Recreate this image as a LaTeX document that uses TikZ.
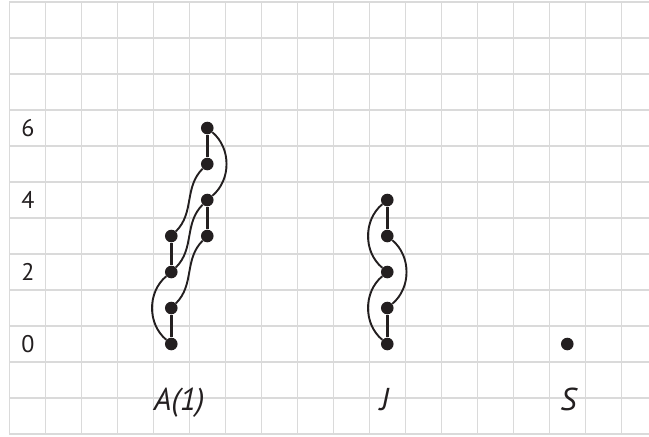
\documentclass[tikz,border=0pt]{standalone}
\usepackage{fontspec}
\setmainfont{PT Sans}
\usetikzlibrary{positioning}
\definecolor{Ink}{RGB}{35,31,32}
\definecolor{GridGray}{RGB}{218,218,218}

\begin{document}
\begin{tikzpicture}[x=1cm, y=1cm,
		dot/.style={circle, fill=Ink, inner sep=0pt, minimum size=0.35cm},
		rung/.style={Ink, line width=2.7pt},
		strand/.style={Ink, line width=1.5pt},
		levellabel/.style={font=\fontsize{19}{22}\selectfont, text=Ink},
		diagname/.style={font=\fontsize{25}{29}\selectfont\itshape, text=Ink, anchor=base}]
		\useasboundingbox (-0.258,-0.056) rectangle (17.77,12.056);
		\draw[GridGray, line width=0.9pt] (0,0) grid (17.77,12);
		
		% levels
		\foreach \n in {0,2,4,6}
			\node[levellabel] (lev\n) at (0.52,2.5+\n) {\n};
		
		% A(1): left column 0..3, right column 3..6
		\foreach \k in {0,...,3} {
			\pgfmathtruncatemacro\m{\k+3}
			\node[dot] (l\k) at (4.5,2.5+\k) {};
			\node[dot] (r\m) at (5.5,2.5+\m) {};
		}
		\draw[rung] (l0) -- (l1);
		\draw[rung] (l2) -- (l3);
		\draw[rung] (r3) -- (r4);
		\draw[rung] (r5) -- (r6);
		\draw[strand] (l0) to[out=140, in=220] (l2);
		\draw[strand] (l1) to[out=45, in=225] (r3);
		\draw[strand] (l2) to[out=45, in=225] (r4);
		\draw[strand] (l3) to[out=45, in=225] (r5);
		\draw[strand] (r4) to[out=40, in=-40] (r6);
		
		% J: one column 0..4
		\foreach \k in {0,...,4}
			\node[dot] (j\k) at (10.5,2.5+\k) {};
		\draw[rung] (j0) -- (j1);
		\draw[rung] (j3) -- (j4);
		\draw[strand] (j0) to[out=140, in=220] (j2);
		\draw[strand] (j1) to[out=40, in=-40] (j3);
		\draw[strand] (j2) to[out=140, in=220] (j4);
		
		% S: a single point
		\node[dot] (s0) at (15.5,2.5) {};
		
		\node[diagname] (nameA) at (4.72,0.65) {A(1)};
		\node[diagname] (nameJ) at (10.42,0.65) {J};
		\node[diagname] (nameS) at (15.53,0.65) {S};
	\end{tikzpicture}
\end{document}
